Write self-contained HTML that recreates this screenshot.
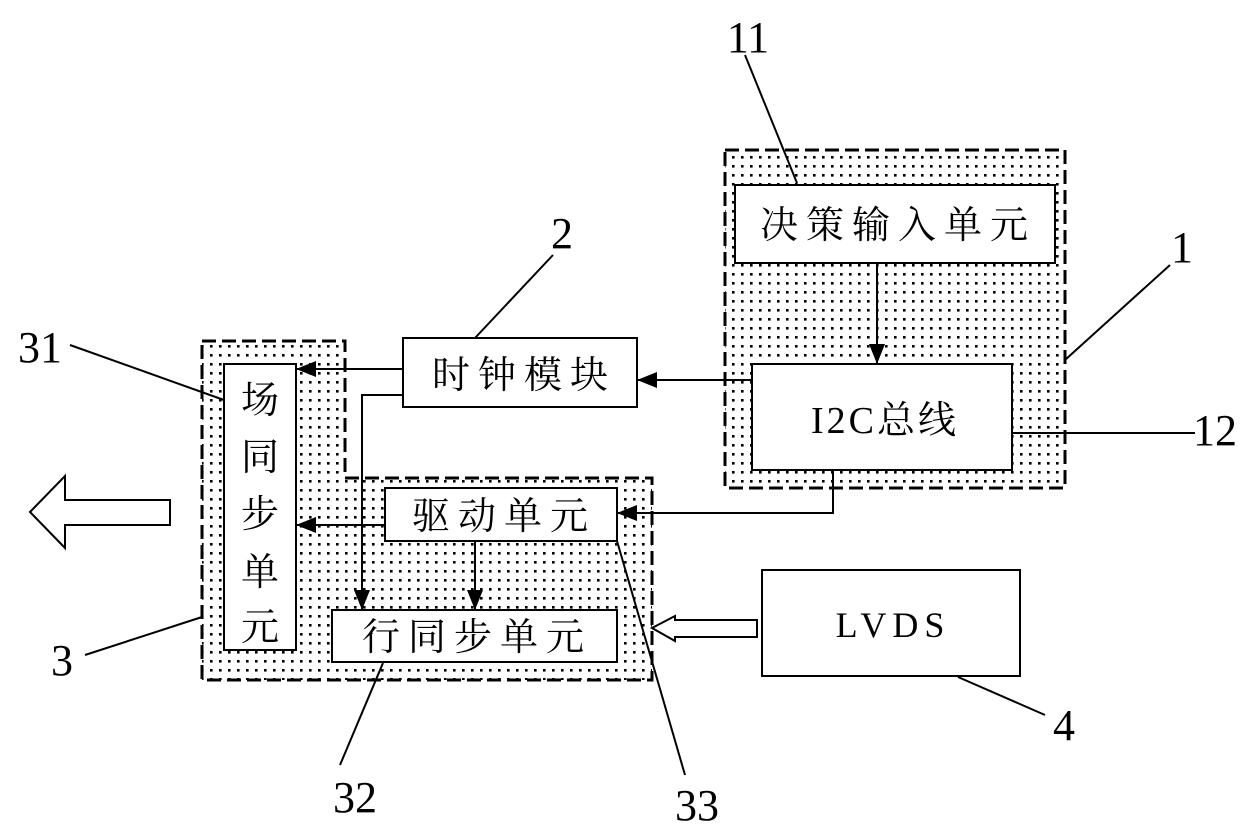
<!DOCTYPE html><html><head><style>body{margin:0;background:#fff}svg{display:block}text{font-family:"Liberation Serif","Noto Serif CJK SC",serif;fill:#000}</style></head><body>
<svg width="1240" height="839" viewBox="0 0 1240 839" xmlns="http://www.w3.org/2000/svg">
<defs><pattern id="d" width="9" height="9" patternUnits="userSpaceOnUse"><rect x="3" y="3" width="2.6" height="2.6" fill="#000"/></pattern>
<marker id="b" markerWidth="20" markerHeight="16" refX="20" refY="8" orient="auto" markerUnits="userSpaceOnUse"><path d="M0,0 L20,8 L0,16Z"/></marker></defs>
<g stroke="#000" stroke-width="3" stroke-dasharray="14,6">
<rect x="725" y="150" width="340" height="338" fill="url(#d)"/>
<path d="M202,341 H345 V478 H652 V680 H202 Z" fill="url(#d)"/></g>
<g stroke="#000" stroke-width="2" fill="#fff">
<rect x="735" y="185" width="320" height="78"/>
<rect x="752" y="364" width="260" height="106"/>
<rect x="403" y="338" width="234" height="69"/>
<rect x="224" y="364" width="72" height="286"/>
<rect x="385" y="488" width="232" height="53"/>
<rect x="332" y="610" width="285" height="52"/>
<rect x="762" y="570" width="258" height="106"/>
<path d="M30,512 L65,476 V500 H170 V525 H65 V548 Z"/>
<path d="M652,628 L675,616 V620 H757 V637 H675 V641 Z"/>
</g>
<g stroke="#000" stroke-width="2" fill="none">
<line x1="877" y1="263" x2="877" y2="364" marker-end="url(#b)"/>
<polyline points="833,470 833,513 617,513" marker-end="url(#b)"/>
<line x1="752" y1="380" x2="637" y2="380" marker-end="url(#b)"/>
<line x1="403" y1="369" x2="296" y2="369" marker-end="url(#b)"/>
<polyline points="403,395 362,395 362,610" marker-end="url(#b)"/>
<line x1="385" y1="525" x2="296" y2="525" marker-end="url(#b)"/>
<line x1="475" y1="541" x2="475" y2="610" marker-end="url(#b)"/>
<line x1="745" y1="55" x2="797" y2="183"/>
<line x1="553" y1="255" x2="475" y2="338"/>
<line x1="1170" y1="265" x2="1065" y2="360"/>
<line x1="1012" y1="433" x2="1195" y2="433"/>
<line x1="70" y1="345" x2="224" y2="400"/>
<line x1="85" y1="655" x2="202" y2="617"/>
<line x1="340" y1="765" x2="383" y2="663"/>
<line x1="617" y1="541" x2="685" y2="775"/>
<line x1="958" y1="677" x2="1045" y2="715"/>
</g>
<g font-size="38" text-anchor="middle" letter-spacing="8">
<text x="898" y="238">决策输入单元</text>
<text x="885" y="433" letter-spacing="3">I2C总线</text>
<text x="524" y="388">时钟模块</text>
<text x="504" y="529">驱动单元</text>
<text x="477" y="650">行同步单元</text>
<text x="893" y="637" letter-spacing="6" font-size="36">LVDS</text>
</g>
<g font-size="38" text-anchor="middle">
<text x="260" y="413">场</text><text x="260" y="470">同</text><text x="260" y="527">步</text><text x="260" y="585">单</text><text x="260" y="640">元</text>
</g>
<g font-size="44" text-anchor="middle">
<text x="748" y="52">11</text><text x="562" y="248">2</text><text x="1182" y="262">1</text><text x="1215" y="445">12</text>
<text x="40" y="362">31</text><text x="62" y="675">3</text><text x="355" y="812">32</text><text x="697" y="820">33</text><text x="1064" y="740">4</text>
</g>
</svg></body></html>
